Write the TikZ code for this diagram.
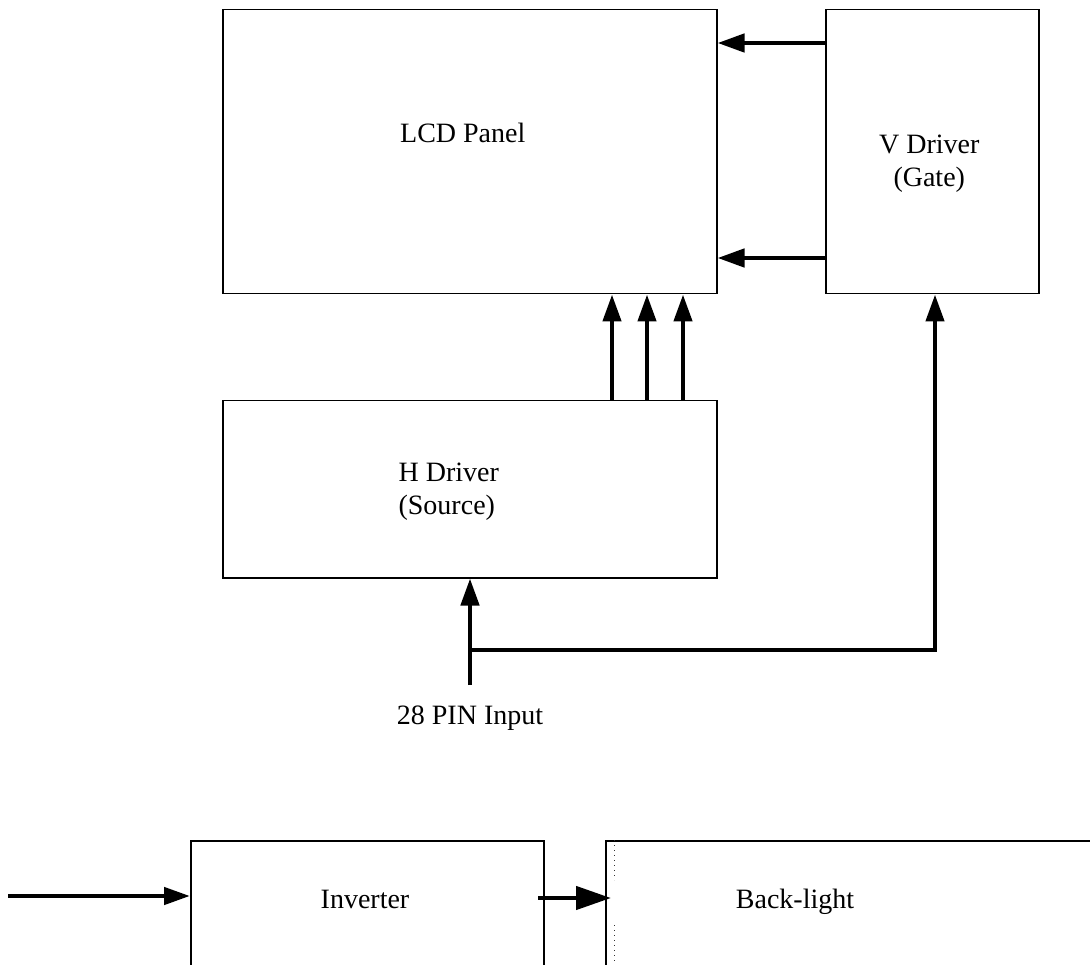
\documentclass[tikz,border=0pt]{standalone}
\usepackage{fontspec}
\setmainfont{Liberation Serif}
\usetikzlibrary{arrows.meta}
\tikzset{
  blk/.style={draw, line width=1.5pt, anchor=north west, inner sep=0pt},
  arr/.style={line width=4.5pt, -{Triangle[length=27pt,width=18pt]}},
}
\begin{document}
\begin{tikzpicture}[x=1pt, y=-1pt, line join=miter, font=\fontsize{28}{33}\selectfont]
  \useasboundingbox (0,0) rectangle (1090,965);
  \clip (0,0) rectangle (1090,965);
  \node[blk, minimum width=494pt, minimum height=284pt,
    label={[name=lcdlbl, xshift=-7pt, yshift=19pt]center:LCD Panel}] (lcd) at (222,9) {};
  \node[blk, minimum width=213pt, minimum height=284pt,
    label={[name=vdrvlbl, align=center, xshift=-3pt, yshift=-12pt]center:V Driver\\(Gate)}] (vdrv) at (825,9) {};
  \node[blk, minimum width=494pt, minimum height=177pt,
    label={[name=hdrvlbl, align=left, xshift=-21pt, yshift=-2pt]center:H Driver\\(Source)}] (hdrv) at (222,400) {};
  \node[blk, minimum width=353pt, minimum height=200pt] (inv) at (190,840) {};
  \node[blk, minimum width=600pt, minimum height=200pt] (bl) at (605,840) {};
  \node[anchor=base] (invlbl) at (365,908) {Inverter};
  \node[anchor=base] (bllbl) at (795,908) {Back-light};
  \node (pinlbl) at (470,718) {28 PIN Input};
  \draw[black!80, line width=1pt, dash pattern=on 1pt off 4pt] (614,840) -- (614,880) (614,925) -- (614,965);

  \draw[arr] (vdrv.west |- 0,43) -- (lcd.east |- 0,43);
  \draw[arr] (vdrv.west |- 0,258) -- (lcd.east |- 0,258);
  \foreach \px in {612,647,683}
    \draw[arr] (hdrv.north -| \px,0) -- (lcd.south -| \px,0);

  \coordinate (pin) at (470,685);
  \coordinate (jn) at (470,650);
  \coordinate (bend) at (935,650);
  \draw[arr] (pin) -- (hdrv.south -| pin);
  \draw[arr] (jn) -- (bend) -- (vdrv.south -| bend);

  \coordinate (src) at (8,896);
  \coordinate (ioA) at (538,898);
  \coordinate (ioB) at (611,898);
  \draw[arr, -{Triangle[length=26pt,width=17pt]}] (src) -- (inv.west |- src);
  \draw[arr, -{Triangle[length=35pt,width=23pt]}] (ioA) -- (ioB);
\end{tikzpicture}
\end{document}
